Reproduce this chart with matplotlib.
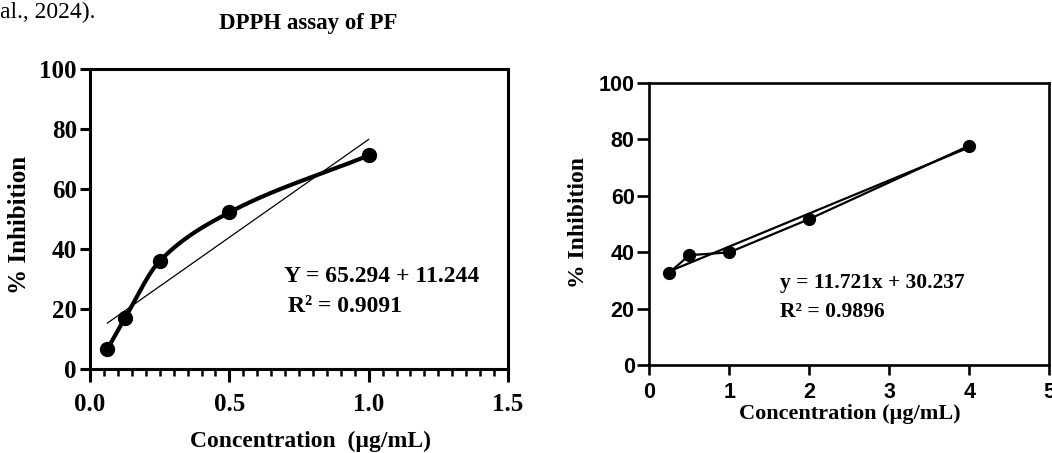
import numpy as np
import matplotlib
matplotlib.use("Agg")
import matplotlib.pyplot as plt
from matplotlib.ticker import MultipleLocator

# left panel: DPPH assay of PF
pf_conc = [0.0625, 0.125, 0.25, 0.5, 1.0]
pf_inhib = [6.7, 16.9, 36.0, 52.2, 71.2]
pf_slope, pf_icpt = 65.294, 11.244

# right panel: standard
std_conc = [0.25, 0.5, 1.0, 2.0, 4.0]
std_inhib = [32.7, 38.9, 39.9, 51.7, 77.7]
std_slope, std_icpt = 11.721, 30.237

SERIF = ['Liberation Serif', 'DejaVu Serif']
SANS = ['Liberation Sans', 'DejaVu Sans']


def smooth_curve(x, y, n=200):
    # monotone cubic (Fritsch-Carlson) through the points, for drawing only
    x = np.asarray(x, float)
    y = np.asarray(y, float)
    h = np.diff(x)
    d = np.diff(y) / h
    m = np.zeros_like(y)
    m[0], m[-1] = d[0], d[-1]
    for i in range(1, len(x) - 1):
        if d[i - 1] * d[i] > 0:
            w1 = 2 * h[i] + h[i - 1]
            w2 = h[i] + 2 * h[i - 1]
            m[i] = (w1 + w2) / (w1 / d[i - 1] + w2 / d[i])
    xs, ys = [], []
    for i in range(len(x) - 1):
        t = np.linspace(0, 1, n // (len(x) - 1))
        h00 = 2 * t**3 - 3 * t**2 + 1
        h10 = t**3 - 2 * t**2 + t
        h01 = -2 * t**3 + 3 * t**2
        h11 = t**3 - t**2
        xs.append(x[i] + t * h[i])
        ys.append(h00 * y[i] + h10 * h[i] * m[i] + h01 * y[i + 1] + h11 * h[i] * m[i + 1])
    return np.concatenate(xs), np.concatenate(ys)


def fx(px):
    return px / 1052


def fy(py):
    return 1 - py / 453


fig = plt.figure(figsize=(10.52, 4.53), dpi=100)

# ---------------- left panel ----------------
ax1 = fig.add_axes([0.0856, 0.1854, 0.3973, 0.6623])
cx, cy = smooth_curve(pf_conc, pf_inhib)
ax1.plot(cx, cy, color='black', lw=3.0, solid_capstyle='round')
ax1.plot(pf_conc, pf_inhib, 'o', color='black', ms=10)
lx = np.array([pf_conc[0], pf_conc[-1]])
ax1.plot(lx, pf_slope * lx + pf_icpt, color='black', lw=0.9)

ax1.set_xlim(0, 1.5)
ax1.set_ylim(0, 100)
ax1.set_xticks([0, 0.5, 1.0, 1.5])
ax1.set_xticklabels(['0.0', '0.5', '1.0', '1.5'])
ax1.xaxis.set_minor_locator(MultipleLocator(0.05))
ax1.yaxis.set_major_locator(MultipleLocator(20))
for s in ax1.spines.values():
    s.set_linewidth(2.2)
ax1.tick_params(axis='x', which='major', length=9.5, width=2.2, pad=8)
ax1.tick_params(axis='x', which='minor', length=5, width=1.8)
ax1.tick_params(axis='y', which='major', length=7.5, width=2.2, pad=2)
for lab in ax1.get_xticklabels() + ax1.get_yticklabels():
    lab.set_fontfamily(SERIF)
    lab.set_fontweight('bold')
    lab.set_fontsize(18)

fig.text(fx(284), fy(276), 'Y = 65.294 + 11.244', family=SERIF, weight='bold',
         fontsize=17, va='center', ha='left')
fig.text(fx(288), fy(307), 'R\u00b2 = 0.9091', family=SERIF, weight='bold',
         fontsize=17, va='center', ha='left')

fig.text(fx(308), fy(24), 'DPPH assay of PF', family=SERIF, weight='bold',
         fontsize=16.5, ha='center', va='center')
fig.text(0, fy(12), 'al., 2024).', family=SERIF, fontsize=17, ha='left', va='center')
fig.text(fx(310), fy(441), 'Concentration  (\u00b5g/mL)', family=SERIF, weight='bold',
         fontsize=17, ha='center', va='center')
fig.text(fx(20), fy(225), '% Inhibition', family=SERIF, weight='bold',
         fontsize=18, ha='center', va='center', rotation=90)

# ---------------- right panel ----------------
ax2 = fig.add_axes([0.6172, 0.1943, 0.3802, 0.6231])
ax2.plot(std_conc, std_inhib, 'o-', color='black', ms=8.5, lw=1.6)
sx = np.array([std_conc[0], std_conc[-1]])
ax2.plot(sx, std_slope * sx + std_icpt, color='black', lw=1.6)

ax2.set_xlim(0, 5)
ax2.set_ylim(0, 100)
ax2.set_xticks([0, 1, 2, 3, 4, 5])
ax2.set_yticks([0, 20, 40, 60, 80, 100])
for s in ax2.spines.values():
    s.set_linewidth(1.9)
ax2.tick_params(axis='x', length=7, width=1.9, pad=5)
ax2.tick_params(axis='y', length=8.5, width=1.9, pad=2)
for lab in ax2.get_xticklabels() + ax2.get_yticklabels():
    lab.set_fontfamily(SANS)
    lab.set_fontweight('bold')
    lab.set_fontsize(15.5)

fig.text(fx(780), fy(283), 'y = 11.721x + 30.237', family=SERIF, weight='bold',
         fontsize=15.5, va='center', ha='left')
fig.text(fx(780), fy(312), 'R\u00b2 = 0.9896', family=SERIF, weight='bold',
         fontsize=15.5, va='center', ha='left')
fig.text(fx(850), fy(414), 'Concentration (\u00b5g/mL)', family=SERIF, weight='bold',
         fontsize=16, ha='center', va='center')
fig.text(fx(578), fy(222), '% Inhibition', family=SERIF, weight='bold',
         fontsize=17, ha='center', va='center', rotation=90)

fig.savefig('out.png', dpi=100)
